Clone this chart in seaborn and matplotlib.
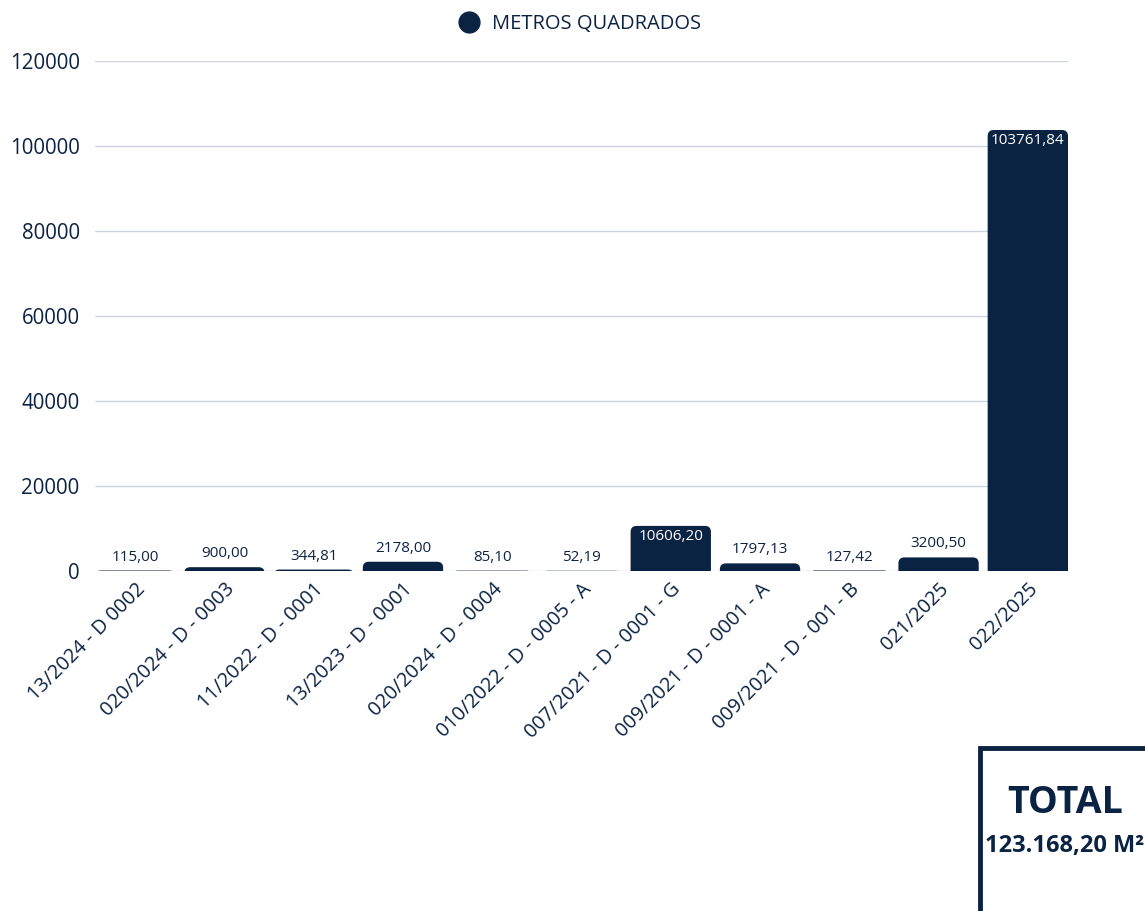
import matplotlib
matplotlib.use("Agg")
import matplotlib.pyplot as plt
import seaborn as sns
import pandas as pd
from matplotlib.patches import FancyBboxPatch, Rectangle
from matplotlib.lines import Line2D

categories = ["13/2024 - D 0002", "020/2024 - D - 0003", "11/2022 - D - 0001",
              "13/2023 - D - 0001", "020/2024 - D - 0004", "010/2022 - D - 0005 - A",
              "007/2021 - D - 0001 - G", "009/2021 - D - 0001 - A", "009/2021 - D - 001 - B",
              "021/2025", "022/2025"]
values = [115.00, 900.00, 344.81, 2178.00, 85.10, 52.19, 10606.20, 1797.13, 127.42, 3200.50, 103761.84]
series_name = "METROS QUADRADOS"
total_label = "TOTAL"
total_value = "123.168,20 M²"
yticks = [0, 20000, 40000, 60000, 80000, 100000, 120000]

NAVY = "#0b2343"
GRID = "#cdd3de"

sns.set_theme(style="white")
plt.rcParams['font.family'] = ['Open Sans', 'DejaVu Sans']

df = pd.DataFrame({"cat": categories, "val": values})

fig = plt.figure(figsize=(11.45, 9.11), dpi=100)
ax = fig.add_axes([95/1145, 1-571/911, (1068-95)/1145, (571-61)/911])

BW = 0.9
sns.barplot(data=df, x="cat", y="val", color=NAVY, width=BW, saturation=1, ax=ax, zorder=3)

ax.set_ylim(0, 120000)
ax.set_xlim(-BW/2, len(categories) - 1 + BW/2)

# rounded tops: replace rectangles by rounded boxes extending below 0 (clipped)
px_x = (1068 - 95) / (len(categories) - 1 + BW)
px_y = 510 / 120000
r_px = 6
rx = r_px / px_x
ry = r_px / px_y
aspect = ry / rx
bars = list(ax.patches)
for p in bars:
    x, w, h = p.get_x(), p.get_width(), p.get_height()
    p.set_visible(False)
    fb = FancyBboxPatch((x, -ry * 1.5), w, h + ry * 1.5,
                        boxstyle=f"round,pad=0,rounding_size={rx}",
                        mutation_aspect=aspect, facecolor=NAVY, edgecolor="none",
                        zorder=3, clip_on=True)
    ax.add_patch(fb)

for i, v in enumerate(values):
    lbl = f"{v:.2f}".replace(".", ",")
    if v > 5000:
        ax.text(i, v - 700, lbl, ha="center", va="top", color="white", fontsize=11, zorder=5)
    else:
        ax.text(i, v + 1400, lbl, ha="center", va="bottom", color=NAVY, fontsize=11, zorder=5)

ax.set_yticks(yticks)
ax.set_yticklabels([str(t) for t in yticks], fontsize=14.8, color=NAVY)
ax.yaxis.grid(True, color=GRID, linewidth=1, zorder=0)
ax.set_axisbelow(True)
ax.set_xticks(range(len(categories)))
ax.set_xticklabels(categories, rotation=45, ha="right", rotation_mode="anchor",
                   fontsize=14.3, color=NAVY)
ax.tick_params(axis="y", length=0, pad=11)
ax.tick_params(axis="x", length=0, pad=6)
for s in ax.spines.values():
    s.set_visible(False)
ax.set_xlabel("")
ax.set_ylabel("")

handle = Line2D([], [], marker="o", linestyle="none", markersize=15,
                markerfacecolor=NAVY, markeredgecolor=NAVY)
fig.legend([handle], [series_name], loc="center", bbox_to_anchor=(575/1145, 1-24/911),
           frameon=False, fontsize=14.5, labelcolor=NAVY, handletextpad=0.15)

# TOTAL box
fig.patches.append(Rectangle((980/1145, -0.05), 0.3, 1-746/911+0.05 - 0.002,
                             transform=fig.transFigure, fill=False,
                             edgecolor=NAVY, linewidth=3.5, clip_on=False))
fig.text(1065/1145, 1-803/911, total_label, ha="center", va="center",
         fontsize=27, fontweight="bold", color=NAVY)
fig.text(985/1145, 1-846/911, total_value, ha="left", va="center",
         fontsize=17, fontweight="bold", color=NAVY)

fig.savefig("out.png", dpi=100)
